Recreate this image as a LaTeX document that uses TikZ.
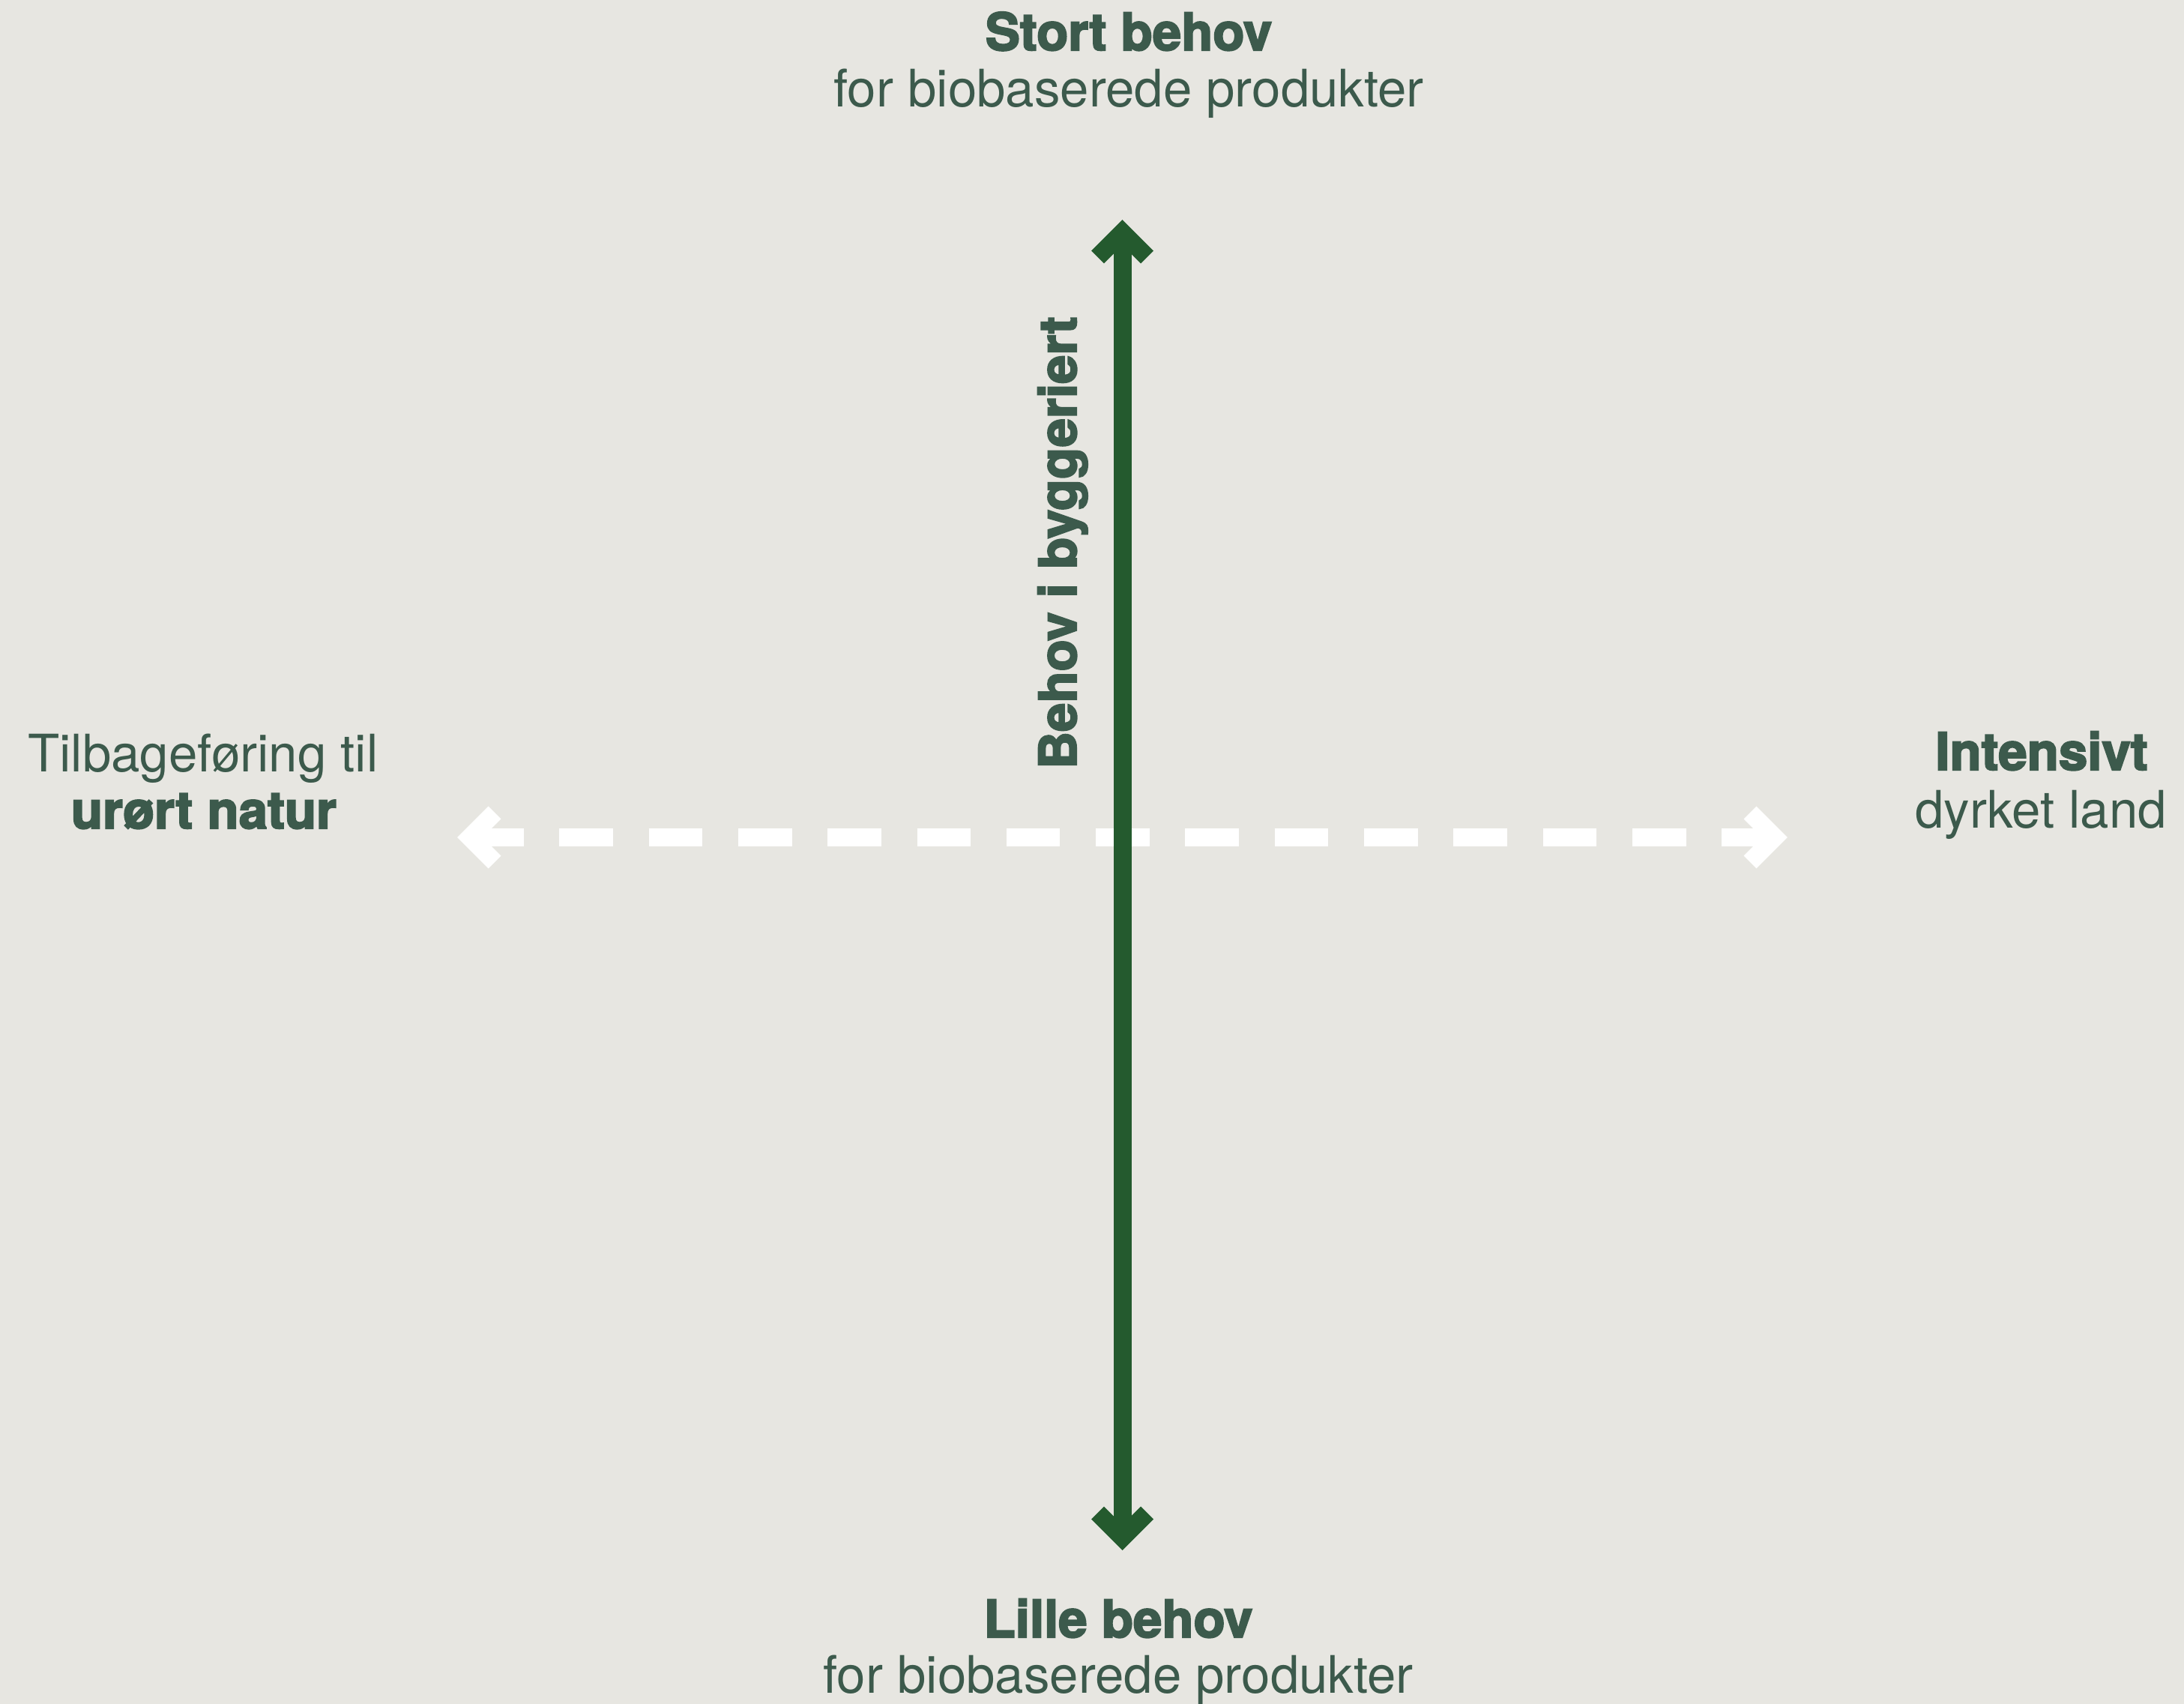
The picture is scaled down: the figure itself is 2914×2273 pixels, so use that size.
\documentclass[tikz,border=0pt]{standalone}
\usepackage{fontspec}
\setmainfont{TeX Gyre Heros}[BoldFeatures={FakeBold=3}]
\definecolor{bgcol}{HTML}{E7E6E1}
\definecolor{axisgreen}{HTML}{245A2E}
\definecolor{txtcol}{HTML}{3C5A4C}
\tikzset{
  greenaxis/.style={draw=axisgreen, line width=12pt, line cap=butt, line join=miter},
  whiteaxis/.style={draw=white, line width=12pt, line cap=butt, line join=miter},
  lbl/.style={text=txtcol, inner sep=0pt, anchor=base, font=\fontsize{34.5}{40}\selectfont},
  lblb/.style={lbl, font=\fontsize{34.5}{40}\selectfont\bfseries},
}
\begin{document}
\begin{tikzpicture}[x=0.5pt,y=-0.5pt]
\fill[bgcol] (0,0) rectangle (2914,2273);
\useasboundingbox (0,0) rectangle (2914,2273);
% axis end points (chevron vertices)
\coordinate (vtop) at (1497.5,310);
\coordinate (vbot) at (1497.5,2051);
\coordinate (hl) at (627,1117);
\coordinate (hr) at (2368,1117);
% horizontal dashed white axis
\draw[whiteaxis, dash pattern=on 35.8pt off 23.85pt] (hl) -- (hr);
\draw[whiteaxis] ([shift={(33,-33)}]hl) -- (hl) -- ([shift={(33,33)}]hl);
\draw[whiteaxis] ([shift={(-33,-33)}]hr) -- (hr) -- ([shift={(-33,33)}]hr);
% vertical green axis
\draw[greenaxis] (vtop) -- (vbot);
\draw[greenaxis] ([shift={(-33,33)}]vtop) -- (vtop) -- ([shift={(33,33)}]vtop);
\draw[greenaxis] ([shift={(-33,-33)}]vbot) -- (vbot) -- ([shift={(33,-33)}]vbot);
% labels
\node[lblb] (t1) at (1506,67) {Stort behov};
\node[lbl] (t2) at (1506,143) {for biobaserede produkter};
\node[lblb] (b1) at (1492,2184) {Lille behov};
\node[lbl] (b2) at (1492,2258) {for biobaserede produkter};
\node[lbl] (l1) at (271,1029) {Tilbageføring til};
\node[lblb] (l2) at (272,1105) {urørt natur};
\node[lblb] (r1) at (2724,1027) {Intensivt};
\node[lbl] (r2) at (2723,1104) {dyrket land};
\node[lblb, rotate=90] (vl) at (1436,724) {Behov i byggeriert};
\end{tikzpicture}
\end{document}
